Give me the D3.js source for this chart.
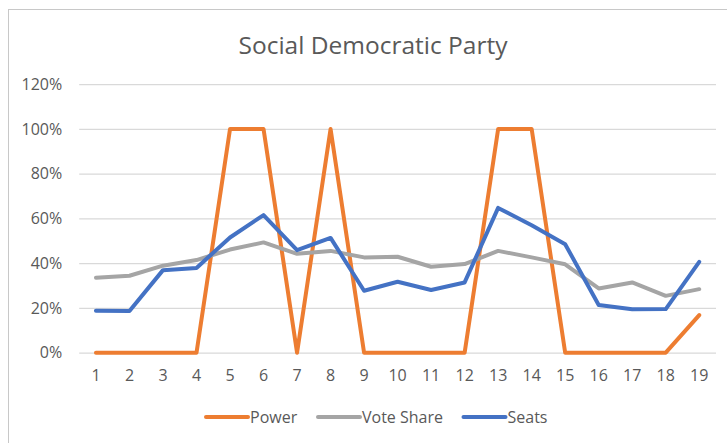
<!DOCTYPE html>
<html>
<head>
<meta charset="utf-8">
<script src="https://cdn.jsdelivr.net/npm/d3@7"></script>
<style>
  html, body { margin: 0; padding: 0; background: #fff; }
  #chart svg { display: block; }
</style>
</head>
<body>
<div id="chart"></div>
<script>
// Données (en %)
const categories = d3.range(1, 20).map(String)
const power = [0, 0, 0, 0, 100, 100, 0, 100, 0, 0, 0, 0, 100, 100, 0, 0, 0, 0, 16.8]
const voteShare = [33.5, 34.4, 38.9, 41.4, 46.1, 49.3, 44.2, 45.5, 42.6, 42.9, 38.4, 39.6, 45.5, 42.6, 39.5, 28.7, 31.4, 25.4, 28.4]
const seats = [18.8, 18.6, 36.9, 37.9, 51.5, 61.5, 45.8, 51.3, 27.7, 31.7, 28.0, 31.4, 64.7, 57.0, 48.5, 21.3, 19.4, 19.5, 40.6]
const yTicks = [0, 20, 40, 60, 80, 100, 120]

const series = [
  { name: "Power", values: power, color: "#ED7D31" },
  { name: "Vote Share", values: voteShare, color: "#A5A5A5" },
  { name: "Seats", values: seats, color: "#4472C4" },
]

const W = 727, H = 443
const font = "'Open Sans', sans-serif"
const textColor = "#595959"
const plot = { left: 79.2, right: 716, top: 84.2, bottom: 352.7 }

const svg = d3.select("#chart")
  .append("svg")
  .attr("width", W).attr("height", H)
  .attr("viewBox", `0 0 ${W} ${H}`)
  .style("font-family", font)

// Cadre du graphique (seuls haut et gauche visibles)
svg.append("rect")
  .attr("x", 8.5).attr("y", 9.5)
  .attr("width", W + 20).attr("height", H + 20)
  .attr("fill", "#fff").attr("stroke", "#c8c8c8").attr("stroke-width", 1)

// Titre
svg.append("text")
  .attr("x", 373).attr("y", 54)
  .attr("text-anchor", "middle")
  .attr("fill", textColor).attr("font-size", 24.5)
  .text("Social Democratic Party")

// Échelles
const x = d3.scaleBand().domain(categories).range([plot.left, plot.right])
const y = d3.scaleLinear().domain([0, 120]).range([plot.bottom, plot.top])

// Grille
svg.append("g")
  .attr("transform", `translate(${plot.left},0)`)
  .call(d3.axisLeft(y).tickValues(yTicks).tickSize(-(plot.right - plot.left)).tickFormat(""))
  .call((s) => s.select(".domain").remove())
  .call((s) => s.selectAll("line").attr("stroke", "#d9d9d9").attr("stroke-width", 1.3))

// Axe Y
svg.append("g")
  .attr("transform", `translate(${plot.left},0)`)
  .call(d3.axisLeft(y).tickValues(yTicks).tickSize(0).tickPadding(17).tickFormat((d) => d + "%"))
  .call((s) => s.select(".domain").remove())
  .call((s) => s.selectAll("text").attr("fill", textColor).attr("font-size", 16).attr("font-family", font))

// Axe X
svg.append("g")
  .attr("transform", `translate(0,${plot.bottom})`)
  .call(d3.axisBottom(x).tickSize(0).tickPadding(17))
  .call((s) => s.select(".domain").remove())
  .call((s) => s.selectAll("text").attr("fill", textColor).attr("font-size", 16).attr("font-family", font))

// Courbes
const line = d3.line()
  .x((d, i) => x(categories[i]) + x.bandwidth() / 2)
  .y((d) => y(d))

series.forEach((s) => {
  svg.append("path")
    .datum(s.values)
    .attr("d", line)
    .attr("fill", "none")
    .attr("stroke", s.color)
    .attr("stroke-width", 4)
    .attr("stroke-linejoin", "round")
    .attr("stroke-linecap", "round")
})

// Légende
const legendX = [206, 318, 463.5]
const legend = svg.append("g").attr("transform", "translate(0,417)")
series.forEach((s, i) => {
  const row = legend.append("g").attr("transform", `translate(${legendX[i]},0)`)
  row.append("line")
    .attr("x1", 0).attr("x2", 42)
    .attr("stroke", s.color).attr("stroke-width", 4).attr("stroke-linecap", "round")
  row.append("text")
    .attr("x", 44).attr("y", 5.6)
    .attr("fill", textColor).attr("font-size", 16)
    .text(s.name)
})
</script>
</body>
</html>
